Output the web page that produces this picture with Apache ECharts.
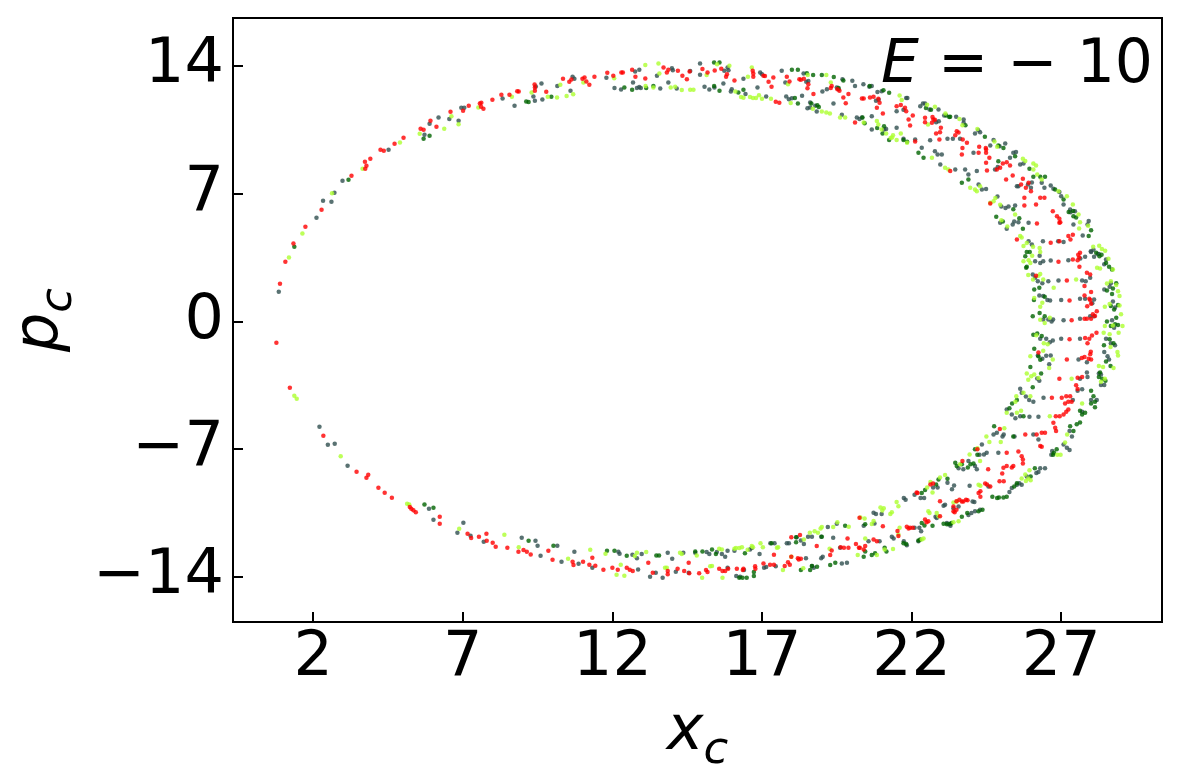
<!DOCTYPE html>
<html lang="en">
<head>
<meta charset="UTF-8">
<title>E = -10 section</title>
<script src="https://cdn.jsdelivr.net/npm/echarts@6.0.0/dist/echarts.min.js"></script>
<style>
  html, body { margin: 0; padding: 0; background: #fff; }
  #chart { width: 1182px; height: 784px; }
</style>
</head>
<body>
<div id="chart"></div>
<script>
// tick labels
var xTicks = [2, 7, 12, 17, 22, 27];
var yTicks = [-14, -7, 0, 7, 14];

// points, [x_c, p_c]
var redPts = [
  [0.89,2.07],[1.07,3.27],[1.34,4.27],[1.74,5.19],[2.28,6.12],[3.28,7.98],[3.74,8.37],[3.78,8.53],[3.73,8.75],[3.91,8.91],
  [4.25,9.41],[4.36,9.35],[4.72,9.74],[5.02,10.07],[5.59,10.56],[5.69,10.5],[5.92,11.0],[6.12,10.67],[6.59,11.49],[7.01,11.55],
  [7.2,11.82],[7.57,11.95],[7.62,11.98],[7.61,11.76],[7.69,11.65],[7.99,12.15],[8.29,12.42],[8.56,12.42],[8.82,12.62],[8.87,12.6],
  [9.4,12.99],[9.41,12.82],[9.41,12.64],[9.79,12.59],[10.35,13.3],[10.56,13.13],[10.63,13.26],[11.0,13.3],[11.07,13.37],[11.13,13.15],
  [11.23,12.97],[11.4,13.41],[11.83,13.63],[12.03,13.46],[12.3,13.64],[12.35,13.64],[12.66,13.79],
  [0.77,-1.17],[1.22,-3.63],[2.34,-6.26],[3.45,-8.24],[3.78,-8.56],[3.84,-8.4],[4.18,-9.11],[4.39,-9.39],[4.63,-9.66],
  [5.23,-10.17],[5.28,-10.26],[5.35,-10.34],[5.43,-10.45],[6.23,-10.7],[6.23,-11.08],[7.16,-11.63],[7.28,-11.87],[7.54,-11.8],[7.79,-11.63],
  [7.8,-12.02],[8.0,-12.13],[8.1,-12.35],[8.49,-12.4],[8.86,-12.62],[9.03,-12.53],[9.14,-12.62],[9.27,-12.77],[9.86,-12.57],[10.0,-13.06],
  [10.67,-13.17],[10.7,-13.35],[11.02,-13.17],[11.23,-13.33],[11.33,-12.95],[11.43,-13.39],[11.7,-13.61],[12.0,-13.5],[12.18,-13.61],[12.48,-13.5],
  [12.58,-13.61],[12.68,-13.68],
  [12.77,13.41],[13.1,13.32],[13.71,13.92],[13.82,13.64],[13.87,13.79],[14.19,13.74],[14.34,13.46],[14.49,13.28],[14.58,13.7],[15.01,13.83],
  [15.18,13.64],[15.42,13.75],[15.64,13.85],[15.8,13.41],[15.83,13.55],[16.08,13.21],[16.69,13.74],[16.71,13.59],[16.71,13.41],[17.05,13.46],
  [17.1,13.45],[17.22,13.13],[17.32,12.86],[17.38,13.37],[17.46,12.04],[17.58,11.98],[17.83,13.41],[17.92,13.15],[18.25,13.28],[18.3,13.25],
  [18.4,13.3],[18.55,13.0],[18.52,12.78],[18.72,12.46],[19.3,12.79],[19.33,12.91],[19.52,12.73],[19.59,12.64],[19.72,12.27],[19.89,12.46],
  [19.8,11.96],[20.11,10.9],[20.34,12.22],[20.4,12.22],[20.61,12.27],
  [20.73,12.31],[20.89,12.2],[20.93,11.98],[20.84,11.71],[21.04,11.4],[21.5,11.8],[21.64,11.86],[21.78,11.71],[21.82,11.52],[22.04,11.29],
  [21.9,11.07],[21.95,10.74],[22.45,11.16],[22.45,10.92],[22.73,11.07],[22.68,10.89],[22.78,11.05],[22.7,11.2],[22.98,10.61],[22.95,10.37],
  [22.93,9.97],[22.82,10.3],[23.51,10.43],[23.57,10.35],[23.46,10.2],[23.71,9.97],[23.85,9.79],[23.7,9.5],[24.26,9.58],[24.48,9.5],
  [22.12,9.86],[23.68,9.15],[23.29,8.24],[24.24,9.24],[24.49,9.42],[24.49,9.24],[24.6,8.97],[24.49,8.7],[24.52,8.27],[24.85,8.33],
  [24.96,8.42],[25.05,8.66],[25.18,8.73],[25.29,8.55],[25.16,7.78],[25.38,8.0],[24.63,6.47],[25.66,7.5],[25.82,7.33],[25.72,7.82],
  [25.91,7.6],[25.99,7.14],[25.77,6.78],[25.77,6.36],[26.16,6.41],[26.3,6.78],[26.44,6.78],[26.72,6.04],[26.86,5.77],[26.94,5.63],
  [26.97,5.44],[25.52,4.49],[26.19,5.37],[26.65,4.31],[26.94,4.4],[27.24,4.68],[27.31,4.49],[27.39,4.75],[26.94,5.41],
  [26.91,3.27],[27.39,3.4],[27.55,3.36],[27.6,3.5],[27.63,3.76],[27.57,3.65],[27.61,3.0],
  [26.16,2.5],[27.19,2.25],[27.86,2.67],[27.97,2.58],[27.78,1.94],[28.0,1.61],
  [27.28,1.15],[27.78,1.42],[27.94,1.25],[27.97,1.17],[28.0,0.97],[27.87,0.84],[28.19,0.56],
  [27.35,0.07],[27.78,0.15],[27.86,0.15],[28.0,0.15],[28.06,0.4],[28.13,0.3],
  [27.28,-0.97],[27.8,-0.9],[27.94,-0.95],[28.03,-0.77],[28.18,-0.62],[27.88,-1.2],[27.99,-1.66],
  [26.24,-1.7],[27.19,-2.08],[27.69,-2.0],[27.78,-1.95],[27.92,-2.04],[27.97,-1.8],[28.0,-2.08],
  [26.94,-3.14],[27.55,-3.08],[27.7,-3.04],[27.5,-3.5],[27.55,-3.7],
  [26.69,-4.18],[27.02,-4.18],[27.17,-4.1],[27.3,-4.1],[27.24,-4.4],[27.13,-4.5],[27.35,-4.4],
  [26.82,-5.2],[26.95,-5.2],[27.08,-5.1],[27.24,-4.82],[27.17,-4.95],
  [24.2,-7.0],[25.18,-7.2],[24.95,-5.9],[25.8,-6.19],[26.18,-6.19],[26.35,-6.1],[26.46,-6.1],[26.3,-6.83],[26.35,-6.86],
  [26.74,-5.55],[26.8,-5.82],[26.83,-6.0],
  [23.7,-7.65],[24.56,-8.1],[25.07,-8.02],[25.18,-7.92],[25.35,-8.0],[25.4,-7.92],[25.68,-7.38],[25.72,-7.56],[25.72,-7.78],[25.57,-7.12],
  [25.03,-8.33],[25.08,-8.75],[24.94,-8.75],
  [24.52,-8.93],[24.46,-8.88],[24.63,-9.04],[24.24,-9.4],[24.3,-9.3],[24.3,-9.6],[23.82,-9.77],[23.87,-9.8],[23.68,-9.86],[23.73,-9.86],
  [22.63,-8.93],[22.72,-8.88],[22.17,-9.37],[22.2,-9.4],[22.95,-9.85],[23.5,-9.85],[23.6,-9.77],[23.4,-10.14],[23.4,-10.4],[23.5,-10.32],
  [23.44,-10.45],[22.95,-10.67],[22.45,-10.85],[22.5,-11.0],[22.56,-10.95],[21.95,-11.3],[22.04,-11.3],[21.9,-11.35],[21.56,-11.76],[21.53,-11.48],
  [21.84,-11.25],[21.04,-11.22],[20.73,-11.95],[20.84,-12.04],[20.45,-12.3],[20.4,-12.5],[20.24,-12.4],
  [13.2,-13.22],[13.35,-13.77],[13.85,-13.68],[13.85,-13.86],[14.18,-13.55],[14.55,-13.22],[14.4,-13.68],[14.57,-13.8],[14.9,-13.8],
  [15.13,-13.62],[15.18,-13.73],[15.57,-13.55],[15.68,-13.68],[15.77,-13.68],[15.87,-13.55],[16.16,-13.55],[16.36,-13.62],[16.38,-13.55],[16.77,-13.42],
  [16.78,-13.55],[17.05,-13.26],[17.27,-13.33],[17.4,-13.33],[17.4,-12.79],[17.76,-13.4],[17.87,-13.2],[17.93,-13.33],[17.98,-11.83],[17.98,-12.9],
  [18.27,-11.7],[18.2,-12.97],[18.3,-13.0],[18.23,-13.04],[18.83,-12.3],[19.28,-12.8],[19.33,-12.55],[19.63,-12.37],[19.74,-12.4],[19.89,-12.4],
  [20.14,-12.2],[20.27,-12.4],[20.26,-10.76],[19.86,-11.9]
];

var limePts = [
  [1.19,3.51],[1.64,4.82],[2.63,7.03],[3.65,8.37],[4.9,9.81],[5.56,10.28],[6.38,10.56],[6.62,11.25],[6.86,10.81],[7.52,11.73],
  [8.64,12.31],[9.3,12.55],[9.84,12.31],[10.15,12.27],[10.26,12.97],[10.47,12.35],[10.69,12.45],[11.03,13.1],[12.06,13.33],
  [1.37,-4.07],[1.45,-4.24],[2.92,-7.38],[5.14,-9.99],[5.21,-10.03],[6.88,-11.36],[8.39,-11.69],[8.87,-12.37],[10.52,-13.0],[11.26,-12.51],
  [11.77,-12.73],[12.14,-13.88],[12.4,-13.93],[12.28,-13.33],
  [13.11,12.91],[13.1,14.06],[13.37,12.82],[13.54,14.14],[13.57,13.59],[13.95,12.82],[14.1,12.86],[14.32,12.68],[14.6,12.7],[14.71,12.7],
  [15.15,13.5],[15.5,14.1],[15.91,14.01],[16.11,12.6],[16.3,12.3],[16.38,12.26],[16.53,13.41],[16.66,13.92],[16.6,12.3],[16.7,12.25],
  [16.8,12.25],[16.9,12.4],[17.0,12.2],[17.3,12.2],[17.87,13.0],[17.96,11.97],[18.53,13.5],[19.15,13.5],[18.7,11.65],[19.0,11.5],
  [19.15,11.45],[19.27,11.4],[19.3,13.1],[19.61,11.18],[19.78,11.18],[20.4,10.9],
  [20.84,10.98],[20.89,10.8],[21.0,10.52],[21.15,10.3],[21.3,10.06],[21.38,10.2],[21.64,10.3],[21.6,12.38],[21.67,12.13],[21.35,10.08],
  [21.5,9.95],[21.85,9.79],[22.52,11.88],[22.78,11.77],[22.55,10.8],[23.13,11.4],[23.6,11.1],[23.7,10.75],[24.2,10.55],[24.77,9.86],
  [24.86,9.58],
  [22.68,8.97],[23.12,8.42],[23.23,8.33],[23.96,7.33],[24.12,7.23],[24.18,7.14],[24.29,7.41],[24.74,6.59],[24.8,6.77],[24.63,6.5],
  [24.96,6.4],[25.72,8.91],[25.8,8.8],[26.07,8.66],[26.16,8.55],[26.2,8.05],[26.07,8.33],[26.35,7.78],[26.91,7.14],[27.19,6.86],
  [27.39,6.41],[27.58,5.86],[27.63,5.44],[25.0,5.55],[25.2,5.2],[25.46,5.86],[25.63,4.68],[25.68,4.6],[25.74,4.13],[25.85,4.3],
  [27.6,5.1],[27.9,5.25],[28.07,4.1],[28.27,4.15],[28.36,3.97],[28.47,3.88],
  [25.74,3.3],[25.91,3.36],[26.03,3.6],[25.97,3.2],[26.3,3.8],[26.28,4.03],[26.06,4.1],[28.58,3.43],[28.73,2.85],[28.2,2.95],
  [28.3,2.9],[26.24,2.5],[26.3,2.6],[25.9,2.55],[26.06,2.3],[26.4,2.3],[27.5,2.3],[28.53,2.08],[28.66,2.2],[28.84,2.0],
  [28.9,1.65],[28.95,1.4],[26.1,1.28],[26.37,1.02],[26.3,0.8],[26.75,1.85],[28.46,0.8],[28.62,0.95],[28.95,0.88],[29.0,0.4],
  [26.3,0.1],[26.45,-0.08],[26.62,0.2],[28.46,-0.25],[28.73,-0.22],[29.05,-0.25],
  [26.17,-0.75],[26.42,-1.2],[26.55,-1.25],[28.42,-0.62],[28.62,-0.7],[28.92,-0.62],[28.88,-1.68],
  [25.97,-1.9],[26.4,-1.6],[26.6,-2.55],[26.72,-2.08],[28.26,-2.44],[28.4,-2.5],[28.75,-2.55],[28.65,-1.4],[28.9,-1.86],
  [25.85,-2.85],[26.0,-3.0],[26.1,-2.9],[26.24,-3.1],[25.9,-3.2],[27.35,-3.14],[28.33,-3.3],[28.46,-3.14],
  [25.5,-4.1],[25.47,-4.4],[25.74,-3.9],[25.97,-4.1],[27.7,-4.5],
  [25.18,-5.0],[25.52,-5.0],[25.66,-4.9],[26.62,-5.2],
  [24.5,-6.3],[24.6,-6.6],[24.2,-6.95],[25.1,-5.85],[24.98,-6.6],[27.13,-6.64],[27.2,-6.2],[26.87,-7.3],[26.98,-7.3],[23.62,-7.83],
  [24.29,-7.65],[23.94,-7.29],[25.68,-8.6],[25.98,-8.7],[25.9,-8.6],[25.82,-8.74],[25.94,-8.16],[25.8,-8.38],[24.24,-8.95],[24.3,-9.0],
  [23.51,-9.86],[23.4,-9.92],[22.95,-8.55],[23.12,-8.42],[22.63,-8.8],[22.7,-9.38],[22.52,-9.1],[21.5,-9.9],[21.56,-10.12],[21.34,-10.45],
  [21.29,-10.55],[21.07,-10.24],[21.02,-10.36],[20.96,-10.2],[22.9,-10.67],[22.6,-10.5],[22.56,-10.4],[22.84,-10.5],[23.4,-11.0],[23.57,-10.95],
  [21.56,-11.67],[21.6,-11.3],[22.34,-11.95],[22.4,-11.9],[20.29,-10.74],[20.43,-10.8],[20.45,-11.9],[20.67,-11.1],[20.73,-10.93],[21.1,-12.5],
  [21.38,-12.47],[20.84,-12.8],
  [12.82,-12.68],[13.13,-12.64],[12.75,-12.85],[13.76,-13.5],[13.82,-13.5],[14.32,-12.74],[14.82,-12.82],[14.26,-12.68],[15.0,-14.04],[15.27,-13.42],
  [15.33,-13.4],[15.68,-14.04],[15.57,-12.46],[15.66,-12.5],[16.08,-12.46],[16.13,-12.42],[16.24,-12.42],[16.33,-12.37],[16.66,-12.3],[16.7,-12.37],
  [16.52,-12.51],[16.95,-12.15],[17.03,-12.37],[17.54,-12.37],[17.7,-13.62],[17.98,-12.9],[17.5,-12.4],[18.4,-11.95],[18.38,-13.53],[18.6,-11.58],
  [18.76,-11.5],[18.87,-11.58],[18.96,-11.35],[19.0,-11.26],[19.26,-12.46],[19.38,-11.26],[19.52,-11.0],[19.9,-11.25],[20.2,-12.8]
];

var slatePts = [
  [0.85,1.63],[2.11,5.68],[2.33,6.61],[2.61,6.56],[2.71,7.05],[2.98,7.71],[4.52,9.41],[5.72,10.23],[5.89,10.83],[6.19,11.18],
  [6.55,11.1],[6.86,11.0],[6.95,11.71],[7.05,11.71],[8.33,12.22],[8.73,11.82],[9.36,12.33],[9.41,12.09],[9.44,12.88],[9.63,13.04],
  [9.66,12.16],[10.16,12.91],[10.6,12.64],[10.67,13.41],[10.73,13.3],[11.8,13.35],[12.07,12.8],[12.29,12.71],[12.69,13.1],
  [2.21,-5.77],[2.49,-6.76],[2.72,-6.7],[3.15,-7.91],[5.87,-10.26],[6.02,-10.87],[6.82,-11.58],[7.02,-11.03],[7.26,-11.74],[7.7,-12.07],
  [8.97,-11.85],[9.43,-12.02],[9.5,-12.29],[9.6,-12.84],[10.16,-12.29],[10.3,-13.17],[10.73,-12.62],[10.87,-13.28],[11.33,-13.5],[12.2,-12.62],
  [12.24,-12.73],[12.67,-12.78],
  [12.76,13.7],[12.9,13.79],[12.82,12.79],[12.9,12.85],[12.95,12.79],[13.49,13.46],[13.6,12.77],[13.87,13.1],[13.99,13.88],[14.02,13.77],
  [14.15,12.77],[14.6,13.72],[14.93,14.14],[14.93,13.52],[15.08,12.86],[15.24,12.71],[15.41,12.82],[15.74,13.74],[15.88,13.77],[15.85,13.92],
  [15.71,13.04],[15.96,12.6],[15.99,12.73],[16.38,13.3],[16.45,12.46],[16.85,12.82],[16.94,13.64],[17.0,13.55],[17.14,12.33],[17.66,13.74],
  [17.78,13.1],[17.9,12.18],[18.0,12.23],[17.81,12.33],[18.39,13.59],[18.48,13.13],[18.55,13.18],[18.34,12.37],[18.61,12.0],[18.61,11.73],
  [18.52,11.69],[18.78,11.82],[18.83,11.51],[19.02,12.6],[19.17,12.73],[19.39,11.95],[19.5,12.82],[19.56,12.73],[19.69,13.28],[20.02,13.19],
  [20.11,12.91],[19.67,11.33],[20.17,11.18],[20.26,11.09],[20.34,11.18],[20.39,13.0],[20.59,12.86],
  [20.67,12.9],[20.86,12.58],[21.0,12.62],[20.81,12.09],[20.9,12.15],[20.67,11.25],[20.67,10.52],[21.08,10.52],[21.15,10.55],[21.5,11.52],
  [21.73,11.6],[21.82,12.25],[21.86,12.25],[21.5,10.61],[21.73,10.01],[22.12,9.97],[22.34,9.52],[22.62,9.93],[22.29,11.8],[22.38,11.95],
  [22.45,11.95],[22.9,11.62],[22.6,11.62],[22.82,10.92],[22.91,10.97],[23.09,11.29],[23.49,11.22],[23.74,11.07],[23.74,10.89],[23.2,10.01],
  [23.38,10.01],[23.62,10.01],[24.12,10.3],[24.23,10.48],[24.29,10.37],[24.74,9.95],[24.94,9.6],[25.13,9.75],[24.63,9.64],
  [22.78,9.33],[22.87,9.15],[22.96,8.6],[23.01,9.15],[23.46,8.33],[23.79,8.33],[23.9,8.05],[24.18,8.24],[24.24,7.5],[24.35,7.23],
  [24.49,7.26],[24.07,9.24],[24.79,8.33],[24.88,8.46],[25.29,8.97],[25.4,9.24],[25.49,9.28],[25.63,8.6],[25.74,8.66],[24.87,6.85],
  [25.0,6.3],[25.14,6.22],[25.24,6.3],[25.46,6.36],[25.52,7.41],[25.57,7.41],[25.89,7.5],[25.99,7.33],[26.02,7.62],[26.35,7.6],
  [26.44,7.33],[26.65,7.45],[26.74,7.27],[26.94,7.09],[27.0,6.86],[27.08,6.41],[27.3,6.14],[27.31,5.99],[27.46,6.04],[24.96,5.41],
  [25.18,5.08],[25.38,5.32],[25.43,5.48],[25.57,5.44],[25.91,5.41],[25.91,4.4],[26.02,4.22],[26.39,4.4],[26.9,4.4],[27.08,4.35],
  [27.41,5.32],[27.72,4.71],[27.88,5.32],[27.92,5.5],[28.0,3.8],[28.1,3.55],[28.22,3.7],
  [26.13,3.3],[26.28,3.6],[26.3,3.2],[26.4,3.3],[26.65,3.34],[27.24,3.36],[27.64,3.45],[27.8,3.55],[27.99,3.85],[28.08,3.93],
  [28.26,3.7],[28.44,3.14],[28.5,3.4],
  [26.05,2.58],[26.13,2.4],[26.22,2.2],[26.37,2.1],[26.57,2.21],[26.91,2.25],[27.7,2.25],[27.97,2.4],[27.82,2.2],[28.66,2.1],
  [28.44,1.75],[28.62,1.9],
  [26.27,1.42],[26.4,1.4],[26.54,1.17],[26.63,1.15],[27.0,1.17],[27.63,1.25],[27.8,1.25],[28.04,1.0],[28.1,1.2],[28.73,1.1],[28.8,0.77],
  [26.4,0.11],[26.57,0.11],[26.68,0.0],[26.73,0.11],[27.08,0.07],[27.63,0.15],[27.97,0.29],[28.1,0.29],[28.7,0.07],[28.77,-0.35],
  [26.3,-0.95],[26.5,-0.95],[26.62,-1.14],[26.72,-1.05],[27.0,-0.95],[27.63,-0.95],[28.5,-0.95],[28.66,-1.2],[28.8,-1.3],
  [26.22,-1.86],[26.37,-2.04],[26.5,-1.88],[26.65,-1.86],[26.6,-2.35],[27.58,-2.08],[27.86,-2.23],[28.44,-1.68],[28.55,-1.9],[28.6,-2.08],[28.33,-2.9],
  [26.2,-3.12],[26.27,-3.25],[27.86,-2.8],[27.88,-3.04],[27.63,-3.14],[28.26,-2.85],[28.33,-3.48],[28.44,-3.48],
  [25.63,-3.69],[25.68,-3.9],[25.82,-4.11],[25.93,-4.3],[26.07,-4.4],[26.41,-4.18],[27.55,-3.8],[27.7,-3.72],[27.39,-4.3],[28.0,-4.3],[28.19,-4.3],
  [25.18,-4.82],[25.35,-5.1],[25.47,-5.3],[25.63,-5.2],[25.94,-5.22],[26.24,-5.22],[27.7,-4.95],
  [24.35,-6.74],[24.42,-7.29],[24.51,-7.2],[24.27,-7.3],[24.9,-7.2],[24.74,-6.2],[24.85,-6.1],[25.04,-6.3],[25.08,-6.2],[25.44,-6.3],
  [26.24,-6.47],[26.07,-6.2],[27.08,-6.74],[27.19,-6.92],[27.28,-7.05],[27.36,-6.3],[27.28,-6.0],[26.7,-7.1],[26.67,-7.3],
  [23.57,-8.05],[23.73,-8.1],[23.9,-7.65],[24.12,-7.92],[24.18,-8.1],[25.85,-8.5],[25.68,-8.95],[25.52,-8.95],[25.35,-9.13],[25.27,-9.35],
  [25.6,-8.86],[26.17,-8.3],[26.24,-8.25],[26.3,-8.05],[26.46,-8.05],
  [24.57,-9.04],[23.42,-8.99],[23.2,-8.84],[23.35,-9.2],[23.94,-9.0],[24.04,-9.86],[24.1,-9.9],[22.72,-9.1],[22.87,-9.1],[22.1,-9.5],
  [22.3,-9.67],[21.74,-9.67],[21.8,-9.77],[22.42,-9.67],
  [23.4,-10.23],[23.57,-10.14],[24.0,-10.5],[24.12,-10.4],[24.29,-10.32],[23.9,-10.6],[23.12,-10.05],[23.07,-10.1],[22.8,-10.7],[22.84,-10.77],
  [23.18,-11.05],[23.24,-11.12],[23.3,-11.2],[22.26,-11.3],[22.32,-11.5],[22.1,-11.3],[21.34,-11.8],[21.4,-11.9],[21.74,-12.04],[21.84,-12.26],
  [22.23,-12.04],[20.73,-10.48],[20.81,-10.55],[21.0,-10.55],[20.4,-11.2],[20.56,-12.04],[20.93,-12.04],[20.76,-11.07],
  [12.82,-12.97],[12.98,-12.75],[12.86,-13.59],[13.26,-13.99],[13.45,-13.77],[13.68,-14.04],[13.85,-12.68],[14.0,-13.0],[14.12,-13.72],[14.55,-13.77],
  [14.37,-12.68],[14.77,-12.68],[15.15,-12.64],[15.24,-12.74],[15.49,-12.64],[15.66,-12.74],[15.77,-12.9],[15.85,-13.5],[15.85,-12.56],[16.08,-12.56],
  [16.14,-13.95],[16.27,-13.99],[16.4,-13.62],[16.6,-12.5],[16.66,-12.41],[16.92,-12.74],[17.07,-13.5],[17.14,-13.46],[17.28,-12.15],[17.42,-12.15],
  [17.46,-13.42],[17.83,-12.15],[17.9,-12.15],[18.16,-11.83],[18.3,-12.0],[18.4,-12.2],[18.47,-12.97],[18.67,-13.4],[18.73,-13.5],[18.54,-11.8],
  [18.67,-11.8],[18.98,-11.8],[18.98,-12.97],[19.03,-12.9],[19.2,-11.26],[19.5,-11.08],[19.38,-11.85],[19.67,-13.26],[19.84,-13.22],[19.61,-12.4]
];

var greenPts = [
  [1.37,4.09],[3.18,7.76],[5.69,10.01],[5.89,10.18],[9.12,12.05],[9.2,12.03],[9.96,12.31],[12.4,12.82],[12.66,12.7],
  [5.72,-10.03],[6.02,-10.21],[9.2,-12.02],[10.03,-12.29],[11.82,-12.57],[12.07,-12.57],[12.48,-12.84],
  [13.13,12.79],[13.37,12.91],[15.4,14.19],[15.58,14.19],[15.58,12.64],[15.4,12.9],[16.21,12.55],[16.38,12.7],[18.0,13.79],[18.1,12.25],
  [18.2,11.95],[18.2,13.8],[18.5,13.6],[18.71,13.5],[19.0,13.5],[18.85,11.85],[18.9,11.75],[18.65,11.95],[19.4,13.4],[19.56,12.8],
  [19.72,13.2],[20.36,11.18],[20.43,10.86],[20.6,12.9],
  [21.06,12.67],[21.25,12.53],[20.85,10.6],[21.08,10.7],[21.03,10.3],[21.25,9.95],[21.73,9.95],[21.85,9.85],[22.48,11.7],[22.65,11.6],
  [23.16,11.29],[23.29,11.22],[23.26,11.2],[23.8,10.75],[24.45,10.12],[24.9,9.64],[25.07,9.5],
  [22.4,8.97],[22.23,9.24],[23.68,7.6],[23.9,7.78],[24.9,8.78],[25.46,9.06],[25.94,8.37],[26.07,7.93],[24.83,5.74],[26.3,7.93],
  [26.46,7.93],[26.8,7.23],[27.08,6.68],[27.41,5.77],[27.5,5.7],[25.05,5.48],[25.72,5.08],[25.6,5.65],[25.4,6.15],[27.25,6.0],
  [27.4,6.05],[27.92,4.68],[28.0,5.0],[28.17,3.76],[28.28,3.58],
  [25.8,3.58],[25.85,3.0],[25.95,3.8],[25.85,3.8],[28.35,3.65],[28.5,3.2],[28.6,3.0],[28.7,2.85],[25.83,2.94],[28.84,2.1],
  [28.53,1.7],[28.7,1.5],[28.73,1.8],[26.1,1.75],[26.27,1.85],[26.09,1.17],[26.45,1.35],[28.66,0.85],[28.77,0.66],[28.9,0.9],
  [26.05,0.29],[26.28,0.46],[26.45,0.29],[28.53,0.0],[28.66,-0.25],[28.8,-0.15],[28.9,-0.2],[28.84,0.2],[26.2,-0.66],[26.35,-0.8],
  [26.07,-0.73],[28.62,-0.97],[28.75,-1.2],[28.43,-1.3],[26.1,-1.5],[26.24,-1.9],[25.97,-2.5],[26.3,-2.1],[28.5,-2.2],[28.65,-2.44],
  [28.3,-2.8],[26.05,-3.6],[26.33,-2.85],[28.26,-3.04],[28.37,-3.14],[28.48,-3.25],[25.36,-4.5],[25.52,-4.3],[28.0,-3.8],[28.08,-4.1],
  [28.13,-4.4],[28.0,-4.5],[28.13,-4.7],[25.27,-4.75],[25.74,-5.2],[27.63,-4.9],[27.7,-5.1],[27.8,-5.0],
  [24.76,-5.74],[24.12,-7.0],[24.2,-7.3],[25.4,-6.3],[27.3,-5.74],[27.41,-6.0],[27.52,-5.63],[27.63,-5.54],[26.73,-7.3],[26.85,-7.0],
  [26.76,-7.2],[23.46,-7.74],[23.51,-7.92],[23.68,-7.83],[23.97,-7.83],[24.07,-7.78],[23.88,-8.0],[25.43,-9.04],[24.86,-9.68],[25.07,-9.65],
  [25.18,-9.6],[25.52,-8.86],[25.98,-8.5],[26.12,-8.05],[22.82,-8.93],[22.9,-8.66],[23.2,-8.62],[22.45,-9.24],[22.34,-9.4],[23.68,-10.7],
  [23.86,-10.5],[24.24,-10.4],[24.37,-10.32],[24.7,-9.6],[24.92,-9.65],[23.07,-11.08],[23.18,-11.12],[23.29,-11.1],[23.33,-11.05],[22.34,-11.05],
  [22.43,-11.18],[22.7,-11.2],[21.73,-12.16],[21.82,-12.2],[22.23,-12.0],[22.29,-11.95],[20.45,-11.12],[20.67,-12.8],[20.78,-12.7],[21.1,-12.4],
  [21.16,-12.6],[20.45,-12.6],[20.4,-12.9],
  [13.47,-12.82],[13.56,-12.82],[14.77,-12.6],[15.01,-12.6],[15.33,-12.5],[15.46,-12.74],[16.24,-14.04],[16.35,-14.04],[16.49,-14.04],[16.73,-13.95],
  [16.73,-13.73],[16.43,-12.7],[17.32,-12.15],[18.14,-11.83],[18.14,-12.1],[18.3,-13.62],[18.61,-13.62],[18.67,-13.4],[18.84,-13.44],[19.0,-11.8],
  [19.28,-13.35],[19.45,-13.22],[19.78,-11.2]
];

var FONT = 'DejaVu Sans';
var chart = echarts.init(document.getElementById('chart'), null, {renderer: 'canvas'});

function minusFmt(v) {
  return String(v).replace('-', '\u2212');
}

function dots(name, pts, color) {
  return {
    name: name,
    type: 'scatter',
    data: pts,
    symbol: 'circle',
    symbolSize: 4.5,
    itemStyle: {color: color},
    emphasis: {disabled: true},
    silent: true
  };
}

chart.setOption({
  animation: false,
  backgroundColor: '#fff',
  title: {
    text: '{i|E} = \u2212 10',
    right: 24,
    top: 31,
    textStyle: {
      fontFamily: FONT,
      fontSize: 60,
      fontWeight: 'normal',
      color: '#000',
      rich: {
        i: {fontFamily: FONT, fontSize: 60, fontStyle: 'italic', color: '#000'}
      }
    }
  },
  grid: {
    left: 233, right: 20, top: 18, bottom: 162,
    show: true, borderColor: '#000', borderWidth: 2, backgroundColor: 'transparent'
  },
  xAxis: {
    type: 'value',
    min: -0.68,
    max: 30.37,
    name: '{i|x}{s|c}',
    nameLocation: 'middle',
    nameGap: 80,
    nameTextStyle: {
      rich: {
        i: {fontFamily: FONT, fontSize: 62, fontStyle: 'italic', color: '#000', lineHeight: 72, verticalAlign: 'top'},
        s: {fontFamily: FONT, fontSize: 45, fontStyle: 'italic', color: '#000', lineHeight: 72, verticalAlign: 'bottom'}
      }
    },
    axisLine: {show: true, onZero: false, lineStyle: {color: '#000', width: 2}},
    axisTick: {show: true, inside: true, length: 10, customValues: xTicks, lineStyle: {color: '#000', width: 2}},
    axisLabel: {customValues: xTicks, formatter: minusFmt, fontFamily: FONT, fontSize: 62, color: '#000', margin: 6},
    splitLine: {show: false}
  },
  yAxis: {
    type: 'value',
    min: -16.47,
    max: 16.63,
    name: '{i|p}{s|c}',
    nameLocation: 'middle',
    nameGap: 150,
    nameRotate: 90,
    nameTextStyle: {
      rich: {
        i: {fontFamily: FONT, fontSize: 62, fontStyle: 'italic', color: '#000', lineHeight: 72, verticalAlign: 'top'},
        s: {fontFamily: FONT, fontSize: 45, fontStyle: 'italic', color: '#000', lineHeight: 72, verticalAlign: 'bottom'}
      }
    },
    axisLine: {show: true, onZero: false, lineStyle: {color: '#000', width: 2}},
    axisTick: {show: true, inside: true, length: 10, customValues: yTicks, lineStyle: {color: '#000', width: 2}},
    axisLabel: {customValues: yTicks, formatter: minusFmt, fontFamily: FONT, fontSize: 62, color: '#000', margin: 9},
    splitLine: {show: false}
  },
  series: [
    dots('darkslategray', slatePts, '#2f4f4f'),
    dots('darkgreen', greenPts, '#006400'),
    dots('greenyellow', limePts, '#adff2f'),
    dots('red', redPts, '#ff0000')
  ]
});
</script>
</body>
</html>
